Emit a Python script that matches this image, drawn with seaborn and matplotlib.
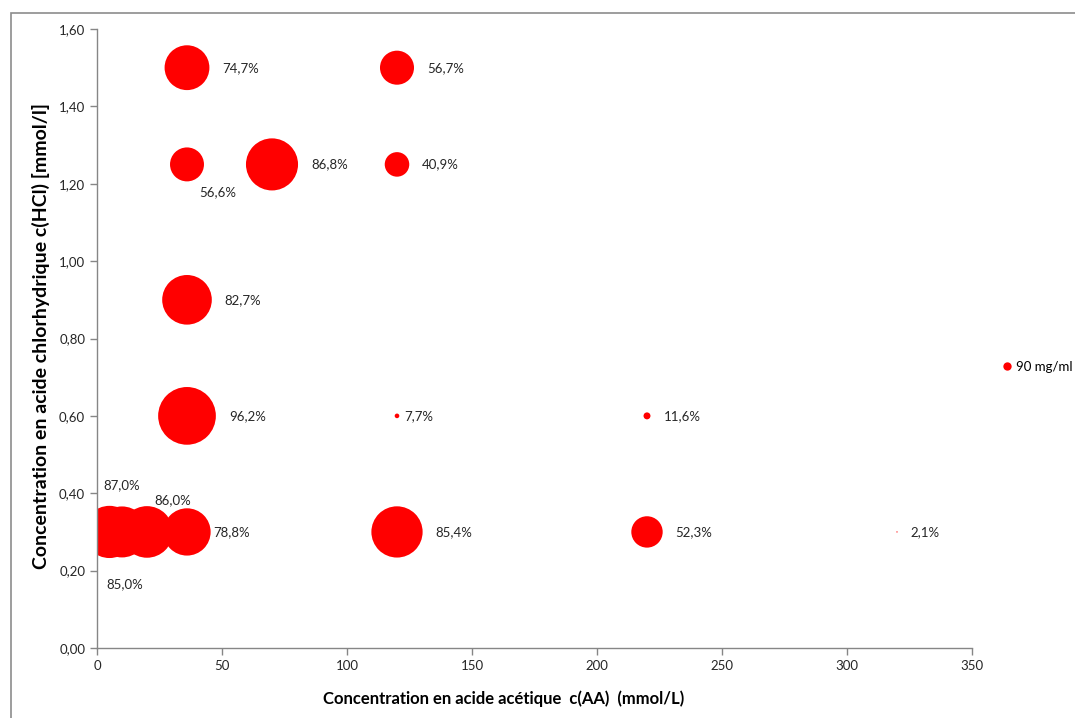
import numpy as np
import pandas as pd
import matplotlib
matplotlib.use("Agg")
import matplotlib.pyplot as plt
import seaborn as sns
from matplotlib.lines import Line2D
from matplotlib.patches import Rectangle

# ── Données ──────────────────────────────────────────────────────────────────
acide_acetique = [36, 120, 36, 70, 120, 36, 36, 120, 220, 5, 10, 20, 36, 120, 220, 320]
acide_hcl      = [1.50, 1.50, 1.25, 1.25, 1.25, 0.90, 0.60, 0.60, 0.60,
                  0.30, 0.30, 0.30, 0.30, 0.30, 0.30, 0.30]
rendement      = [74.7, 56.7, 56.6, 86.8, 40.9, 82.7, 96.2, 7.7, 11.6,
                  87.0, 85.0, 86.0, 78.8, 85.4, 52.3, 2.1]
serie_nom      = "90 mg/ml"

# ── Style ────────────────────────────────────────────────────────────────────
ROUGE   = "#ff0000"
TEXT    = "#262626"
C_SPINE = "#868686"
PX2PT   = 0.72          # 1 px = 0.72 pt à 100 dpi
R_PX    = 0.30          # rayon des bulles (px) par point de %

# décalages des étiquettes déplacées (px, vers la droite / vers le haut)
label_offsets = {
    9:  (12, 47, "center"),
    10: (3, -52, "center"),
    11: (26, 32, "center"),
    12: (None, 0, "left"),
    2:  (31, -28, "center"),
    7:  (7, 0, "left"),
}

sns.set_style("ticks")
plt.rcParams["font.family"] = ["Lato", "DejaVu Sans"]

df = pd.DataFrame({"aa": acide_acetique, "hcl": acide_hcl, "pct": rendement})
diam_pt = 2 * R_PX * df["pct"] * PX2PT

fig = plt.figure(figsize=(10.75, 7.18), dpi=100, facecolor="white")
ax = fig.add_axes([97 / 1075, 70 / 718, 875 / 1075, 619 / 718])

sns.scatterplot(data=df, x="aa", y="hcl", s=diam_pt ** 2, color=ROUGE,
                edgecolor="none", linewidth=0, legend=False, ax=ax)

for i, row in df.iterrows():
    r = R_PX * row["pct"]
    dx, dy, ha = r + 13, 0, "left"
    if i in label_offsets:
        ox, oy, ha = label_offsets[i]
        dx = r + 3 if ox is None else ox
        dy = oy
    ax.annotate(f"{row['pct']:.1f}%".replace(".", ","),
                xy=(row["aa"], row["hcl"]),
                xytext=(dx * PX2PT, dy * PX2PT), textcoords="offset points",
                ha=ha, va="center", fontsize=9.5, color=TEXT, annotation_clip=False)

ax.set_xlim(0, 350)
ax.set_ylim(0, 1.60)
ax.set_xticks(np.arange(0, 351, 50))
ax.set_yticks(np.arange(0, 1.61, 0.2))
ax.set_yticklabels([f"{v:.2f}".replace(".", ",") for v in np.arange(0, 1.61, 0.2)])
ax.tick_params(colors=C_SPINE, labelcolor=TEXT, labelsize=9.5, length=5, width=1,
               direction="out")
ax.spines[["top", "right"]].set_visible(False)
ax.spines[["bottom", "left"]].set_color(C_SPINE)
ax.spines[["bottom", "left"]].set_linewidth(1)

ax.set_xlabel("Concentration en acide acétique  c(AA)  (mmol/L)",
              fontsize=12, fontweight="bold", color="black")
ax.set_ylabel("Concentration en acide chlorhydrique c(HCl) [mmol/l]",
              fontsize=14, fontweight="bold", color="black")
ax.xaxis.set_label_coords(0.465, -0.068)
ax.yaxis.set_label_coords(-0.054, 0.504)

handle = Line2D([], [], marker="o", color=ROUGE, linestyle="", markersize=6,
                markeredgewidth=0)
fig.legend(handles=[handle], labels=[serie_nom], loc="center left",
           bbox_to_anchor=(0.932, 0.489), frameon=False, fontsize=9.5,
           handlelength=0.8, handletextpad=0.3, borderpad=0, borderaxespad=0,
           labelcolor="black")

# bordure de la zone de graphique
fig.patches.append(Rectangle((11 / 1075, -0.05), 1.2, 1.05 - 13 / 718,
                             transform=fig.transFigure, fill=False,
                             edgecolor="#8c8c8c", linewidth=1.2))

fig.savefig("out.png", dpi=100, facecolor="white")
